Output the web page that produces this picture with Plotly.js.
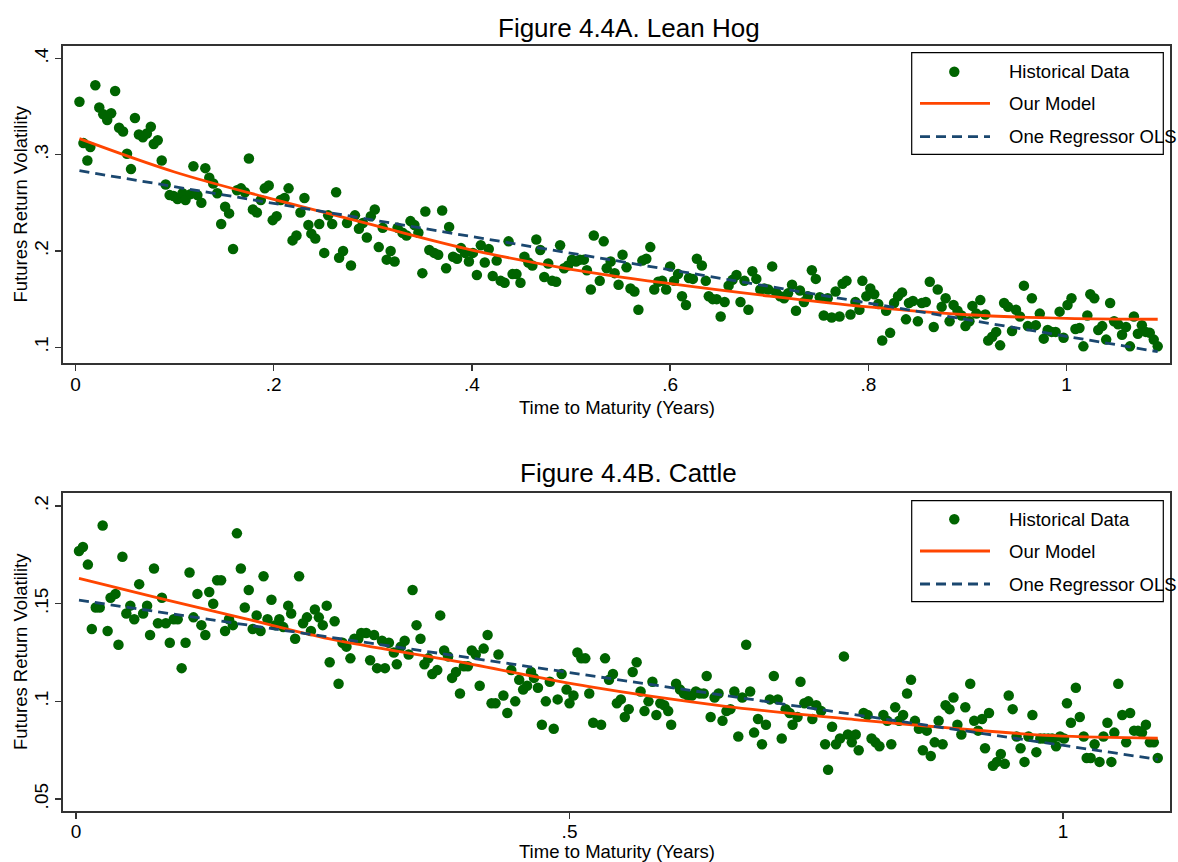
<!DOCTYPE html>
<html>
<head>
<meta charset="utf-8">
<script src="https://cdn.plot.ly/plotly-3.0.1.min.js"></script>
<style>
  html, body { margin: 0; padding: 0; background: #ffffff; }
  #chart { width: 1178px; height: 862px; }
</style>
</head>
<body>
<div id="chart"></div>
<script>
// ---------- Figure 4.4A: Lean Hog ----------
const hogMaturity = [
  0.004,0.008,0.012,0.015,0.020,0.024,0.028,0.032,0.036,0.040,0.044,0.048,0.052,0.056,0.060,0.064,0.068,0.072,0.076,0.079,
  0.083,0.087,0.091,0.095,0.099,0.103,0.108,0.111,0.116,0.119,0.123,0.127,0.131,0.135,0.139,0.143,0.147,0.151,0.155,0.159,
  0.163,0.167,0.171,0.175,0.179,0.183,0.187,0.191,0.195,0.199,0.203,0.207,0.211,0.215,0.219,0.223,0.227,0.231,0.235,0.238,
  0.242,0.246,0.251,0.255,0.259,0.263,0.266,0.270,0.274,0.278,0.282,0.286,0.290,0.294,0.298,0.302,0.306,0.310,0.314,0.318,
  0.322,0.325,0.330,0.334,0.338,0.342,0.346,0.350,0.353,0.357,0.362,0.366,0.370,0.374,0.377,0.381,0.385,0.389,0.393,0.397,
  0.401,0.405,0.409,0.413,0.417,0.421,0.425,0.429,0.433,0.437,0.441,0.445,0.449,0.453,0.457,0.461,0.465,0.469,0.473,0.477,
  0.481,0.485,0.489,0.493,0.497,0.501,0.505,0.509,0.513,0.516,0.520,0.523,0.529,0.533,0.536,0.540,0.544,0.548,0.552,0.556,
  0.560,0.564,0.568,0.572,0.576,0.580,0.584,0.588,0.592,0.596,0.600,0.604,0.608,0.612,0.616,0.619,0.623,0.627,0.632,0.636,
  0.639,0.643,0.647,0.651,0.655,0.659,0.663,0.667,0.671,0.675,0.679,0.683,0.687,0.691,0.695,0.699,0.703,0.707,0.711,0.715,
  0.719,0.723,0.727,0.731,0.735,0.739,0.743,0.747,0.751,0.755,0.759,0.763,0.767,0.771,0.774,0.778,0.782,0.787,0.791,0.794,
  0.798,0.802,0.806,0.810,0.814,0.818,0.822,0.826,0.830,0.834,0.838,0.841,0.845,0.850,0.854,0.858,0.862,0.866,0.870,0.874,
  0.878,0.882,0.886,0.890,0.894,0.898,0.902,0.905,0.909,0.913,0.918,0.921,0.925,0.929,0.933,0.937,0.941,0.945,0.949,0.953,
  0.957,0.961,0.965,0.969,0.973,0.977,0.981,0.985,0.989,0.993,0.997,1.001,1.005,1.009,1.013,1.017,1.021,1.024,1.028,1.032,
  1.036,1.040,1.044,1.048,1.052,1.056,1.060,1.064,1.068,1.072,1.076,1.080,1.084,1.088,1.092
];
const hogVolatility = [
  0.355,0.312,0.294,0.308,0.372,0.349,0.342,0.336,0.343,0.366,0.328,0.324,0.301,0.285,0.338,0.321,0.318,0.322,0.329,0.311,
  0.315,0.294,0.269,0.258,0.257,0.254,0.260,0.253,0.259,0.288,0.258,0.250,0.286,0.276,0.270,0.260,0.228,0.246,0.239,0.202,
  0.263,0.265,0.261,0.296,0.243,0.240,0.253,0.265,0.268,0.232,0.236,0.253,0.255,0.265,0.211,0.216,0.240,0.255,0.227,0.218,
  0.213,0.228,0.198,0.237,0.228,0.261,0.193,0.200,0.229,0.185,0.237,0.223,0.229,0.214,0.236,0.243,0.204,0.224,0.191,0.200,
  0.189,0.224,0.219,0.216,0.231,0.227,0.219,0.177,0.241,0.201,0.198,0.196,0.242,0.182,0.225,0.194,0.192,0.203,0.198,0.189,
  0.198,0.175,0.206,0.188,0.202,0.174,0.190,0.169,0.167,0.210,0.176,0.176,0.167,0.194,0.188,0.185,0.212,0.201,0.173,0.187,
  0.169,0.168,0.206,0.182,0.185,0.191,0.189,0.191,0.191,0.180,0.160,0.216,0.169,0.210,0.182,0.189,0.177,0.165,0.196,0.183,
  0.161,0.158,0.139,0.190,0.192,0.204,0.160,0.168,0.169,0.160,0.184,0.169,0.176,0.153,0.144,0.172,0.171,0.192,0.185,0.169,
  0.153,0.150,0.150,0.132,0.147,0.164,0.170,0.175,0.147,0.169,0.139,0.179,0.171,0.160,0.161,0.160,0.184,0.157,0.153,0.151,
  0.156,0.165,0.138,0.159,0.147,0.153,0.180,0.171,0.152,0.133,0.151,0.131,0.158,0.132,0.166,0.169,0.134,0.147,0.139,0.169,
  0.153,0.161,0.155,0.145,0.107,0.138,0.115,0.146,0.153,0.157,0.129,0.146,0.148,0.127,0.146,0.147,0.168,0.121,0.160,0.142,
  0.151,0.127,0.144,0.138,0.133,0.122,0.127,0.143,0.135,0.149,0.134,0.107,0.111,0.116,0.102,0.146,0.142,0.117,0.139,0.132,
  0.164,0.122,0.151,0.123,0.135,0.109,0.118,0.116,0.116,0.137,0.110,0.144,0.151,0.119,0.120,0.101,0.133,0.155,0.151,0.118,
  0.122,0.108,0.146,0.127,0.124,0.113,0.121,0.101,0.132,0.114,0.123,0.116,0.115,0.108,0.101
];
// fitted curve of the model and the single-regressor OLS line
const hogModelX = [0.004,0.1,0.2,0.3,0.4,0.5,0.6,0.7,0.8,0.9,1.0,1.092];
const hogModelY = [0.3166,0.2820,0.2536,0.2270,0.2010,0.1810,0.1660,0.1532,0.1420,0.1338,0.1300,0.1291];
const hogOlsX = [0.004,1.092];
const hogOlsY = [0.2833,0.0955];

// ---------- Figure 4.4B: Cattle ----------
const cattleMaturity = [
  0.003,0.007,0.012,0.016,0.020,0.024,0.027,0.032,0.035,0.040,0.043,0.047,0.051,0.055,0.059,0.064,0.068,0.072,0.075,0.079,
  0.083,0.087,0.091,0.095,0.099,0.103,0.107,0.111,0.115,0.119,0.123,0.127,0.131,0.135,0.139,0.143,0.147,0.151,0.155,0.159,
  0.163,0.167,0.171,0.175,0.179,0.183,0.187,0.190,0.194,0.198,0.202,0.206,0.210,0.215,0.218,0.222,0.226,0.230,0.234,0.238,
  0.242,0.246,0.250,0.254,0.257,0.262,0.266,0.270,0.274,0.278,0.282,0.286,0.289,0.294,0.298,0.302,0.305,0.310,0.313,0.317,
  0.322,0.325,0.329,0.333,0.337,0.341,0.345,0.349,0.353,0.357,0.361,0.366,0.369,0.373,0.377,0.381,0.385,0.389,0.393,0.397,
  0.401,0.405,0.409,0.413,0.417,0.421,0.425,0.428,0.433,0.437,0.441,0.445,0.449,0.453,0.457,0.461,0.464,0.468,0.472,0.476,
  0.480,0.484,0.488,0.492,0.497,0.500,0.504,0.508,0.512,0.516,0.520,0.524,0.532,0.536,0.540,0.544,0.548,0.552,0.556,0.560,
  0.564,0.568,0.572,0.576,0.580,0.584,0.588,0.592,0.596,0.600,0.603,0.608,0.612,0.616,0.620,0.624,0.628,0.632,0.636,0.639,
  0.643,0.647,0.651,0.655,0.659,0.663,0.667,0.671,0.675,0.679,0.683,0.687,0.691,0.695,0.699,0.703,0.707,0.711,0.715,0.719,
  0.723,0.726,0.731,0.734,0.738,0.742,0.746,0.750,0.755,0.759,0.762,0.766,0.770,0.774,0.778,0.782,0.786,0.790,0.793,0.798,
  0.802,0.806,0.810,0.814,0.818,0.822,0.826,0.830,0.834,0.838,0.842,0.846,0.850,0.854,0.858,0.862,0.866,0.870,0.874,0.878,
  0.881,0.885,0.889,0.893,0.897,0.901,0.906,0.910,0.914,0.918,0.921,0.925,0.929,0.933,0.937,0.941,0.945,0.949,0.953,0.957,
  0.961,0.965,0.969,0.973,0.977,0.981,0.985,0.989,0.993,0.997,1.001,1.004,1.008,1.013,1.017,1.021,1.024,1.028,1.032,1.037,
  1.041,1.045,1.049,1.052,1.056,1.060,1.064,1.068,1.072,1.076,1.080,1.084,1.088,1.092,1.096
];
const cattleVolatility = [
  0.177,0.179,0.170,0.137,0.148,0.148,0.190,0.136,0.153,0.155,0.129,0.174,0.145,0.149,0.142,0.160,0.145,0.149,0.134,0.168,
  0.140,0.153,0.140,0.130,0.142,0.142,0.117,0.130,0.166,0.143,0.155,0.139,0.134,0.156,0.150,0.162,0.162,0.136,0.142,0.139,
  0.186,0.168,0.148,0.157,0.137,0.144,0.136,0.164,0.142,0.152,0.139,0.142,0.138,0.149,0.145,0.132,0.164,0.140,0.143,0.136,
  0.147,0.143,0.139,0.149,0.120,0.141,0.109,0.130,0.128,0.122,0.132,0.132,0.135,0.135,0.121,0.134,0.117,0.131,0.117,0.130,
  0.125,0.119,0.128,0.131,0.124,0.157,0.139,0.132,0.119,0.122,0.114,0.116,0.144,0.126,0.123,0.112,0.115,0.104,0.118,0.118,
  0.126,0.124,0.108,0.127,0.134,0.099,0.099,0.124,0.103,0.094,0.116,0.100,0.111,0.106,0.108,0.115,0.112,0.107,0.088,0.100,
  0.110,0.086,0.101,0.114,0.106,0.099,0.103,0.125,0.122,0.122,0.104,0.089,0.088,0.122,0.111,0.114,0.099,0.101,0.092,0.096,
  0.115,0.120,0.105,0.095,0.100,0.110,0.093,0.099,0.098,0.095,0.088,0.109,0.106,0.104,0.103,0.103,0.105,0.104,0.104,0.113,
  0.092,0.102,0.104,0.090,0.095,0.096,0.105,0.082,0.102,0.129,0.105,0.084,0.091,0.078,0.088,0.101,0.113,0.101,0.081,0.096,
  0.094,0.088,0.092,0.110,0.099,0.100,0.091,0.098,0.095,0.078,0.065,0.087,0.078,0.081,0.123,0.083,0.079,0.083,0.075,0.094,
  0.093,0.081,0.079,0.077,0.093,0.090,0.078,0.097,0.090,0.093,0.104,0.111,0.090,0.086,0.075,0.085,0.072,0.079,0.090,0.078,
  0.098,0.096,0.102,0.088,0.083,0.097,0.109,0.090,0.085,0.091,0.076,0.094,0.067,0.069,0.073,0.068,0.103,0.096,0.082,0.076,
  0.069,0.082,0.093,0.074,0.081,0.081,0.081,0.081,0.077,0.082,0.081,0.099,0.089,0.107,0.092,0.082,0.071,0.071,0.078,0.069,
  0.082,0.089,0.069,0.084,0.109,0.093,0.079,0.094,0.085,0.085,0.084,0.088,0.079,0.079,0.071
];
const cattleModelX = [0.003,0.085,0.17,0.257,0.387,0.52,0.656,0.794,0.89,0.99,1.096];
const cattleModelY = [0.1629,0.1527,0.1425,0.1320,0.1203,0.1075,0.0976,0.0904,0.0862,0.0824,0.0811];
const cattleOlsX = [0.003,1.096];
const cattleOlsY = [0.1518,0.0703];

// ---------- tick labels and text ----------
const hogXTicks = [0, 0.2, 0.4, 0.6, 0.8, 1];
const hogXTickText = ['0', '.2', '.4', '.6', '.8', '1'];
const hogYTicks = [0.1, 0.2, 0.3, 0.4];
const hogYTickText = ['.1', '.2', '.3', '.4'];
const cattleXTicks = [0, 0.5, 1];
const cattleXTickText = ['0', '.5', '1'];
const cattleYTicks = [0.05, 0.1, 0.15, 0.2];
const cattleYTickText = ['.05', '.1', '.15', '.2'];

const panelTitles = ['Figure 4.4A. Lean Hog', 'Figure 4.4B. Cattle'];
const xTitle = 'Time to Maturity (Years)';
const yTitle = 'Futures Return Volatility';
const legendLabels = ['Historical Data', 'Our Model', 'One Regressor OLS'];

// ---------- styling ----------
const W = 1178, H = 862;
const FONT = 'Liberation Sans, Arial, Helvetica, sans-serif';
const DOT = '#006400';
const MODEL = '#ff4500';
const OLS = '#1a476f';
const FRAME = '#333333';
const fx = p => p / W;          // pixel column -> paper x
const fy = p => 1 - p / H;      // pixel row -> paper y

function scatterTrace(x, y, xa, ya) {
  return { x, y, xaxis: xa, yaxis: ya, type: 'scatter', mode: 'markers',
           marker: { color: DOT, size: 10.5, line: { width: 0 } },
           showlegend: false, hoverinfo: 'skip' };
}
function modelTrace(x, y, xa, ya) {
  return { x, y, xaxis: xa, yaxis: ya, type: 'scatter', mode: 'lines',
           line: { color: MODEL, width: 2.8, shape: 'spline', smoothing: 1 },
           showlegend: false, hoverinfo: 'skip' };
}
function olsTrace(x, y, xa, ya) {
  return { x, y, xaxis: xa, yaxis: ya, type: 'scatter', mode: 'lines',
           line: { color: OLS, width: 2.8, dash: '10px,6px' },
           showlegend: false, hoverinfo: 'skip' };
}

const data = [
  scatterTrace(hogMaturity, hogVolatility, 'x', 'y'),
  modelTrace(hogModelX, hogModelY, 'x', 'y'),
  olsTrace(hogOlsX, hogOlsY, 'x', 'y'),
  scatterTrace(cattleMaturity, cattleVolatility, 'x2', 'y2'),
  modelTrace(cattleModelX, cattleModelY, 'x2', 'y2'),
  olsTrace(cattleOlsX, cattleOlsY, 'x2', 'y2')
];

function axisBase() {
  return {
    showline: true, mirror: true, linecolor: FRAME, linewidth: 1.6,
    ticks: 'outside', ticklen: 6, tickwidth: 1.3, tickcolor: FRAME,
    showgrid: false, zeroline: false, fixedrange: true,
    tickfont: { family: FONT, size: 19, color: '#000000' }
  };
}

const xDomain = [fx(63), fx(1170)];
const layout = {
  width: W, height: H,
  margin: { l: 0, r: 0, t: 0, b: 0 },
  paper_bgcolor: '#ffffff', plot_bgcolor: '#ffffff',
  font: { family: FONT, size: 19, color: '#000000' },
  showlegend: false,
  xaxis: Object.assign(axisBase(), { domain: xDomain, anchor: 'y', range: [-0.0126, 1.1044],
    tickmode: 'array', tickvals: hogXTicks, ticktext: hogXTickText, ticklabelstandoff: -2 }),
  yaxis: Object.assign(axisBase(), { domain: [fy(363), fy(46)], anchor: 'x', range: [0.0837, 0.4128],
    tickmode: 'array', tickvals: hogYTicks, ticktext: hogYTickText, tickangle: -90 }),
  xaxis2: Object.assign(axisBase(), { domain: xDomain, anchor: 'y2', range: [-0.0132, 1.1084],
    tickmode: 'array', tickvals: cattleXTicks, ticktext: cattleXTickText, ticklabelstandoff: -3 }),
  yaxis2: Object.assign(axisBase(), { domain: [fy(811), fy(493)], anchor: 'x2', range: [0.04386, 0.20666],
    tickmode: 'array', tickvals: cattleYTicks, ticktext: cattleYTickText, tickangle: -90 }),
  shapes: [],
  annotations: []
};

// panel titles and axis titles
const panels = [
  { titleY: 28, xTitleY: 407, yTitleY: 204.5, legendTop: 52.7, legendBottom: 154.3, rows: [71.7, 103.3, 136.7] },
  { titleY: 473, xTitleY: 851, yTitleY: 652, legendTop: 500.7, legendBottom: 601.7, rows: [519.3, 551, 584] }
];
panels.forEach((p, i) => {
  layout.annotations.push({ xref: 'paper', yref: 'paper', x: fx(628.5), y: fy(p.titleY),
    text: panelTitles[i], showarrow: false, xanchor: 'center', yanchor: 'middle',
    font: { family: FONT, size: 26, color: '#000000' } });
  layout.annotations.push({ xref: 'paper', yref: 'paper', x: fx(616.5), y: fy(p.xTitleY),
    text: xTitle, showarrow: false, xanchor: 'center', yanchor: 'middle',
    font: { family: FONT, size: 18.5, color: '#000000' } });
  layout.annotations.push({ xref: 'paper', yref: 'paper', x: fx(20), y: fy(p.yTitleY),
    text: yTitle, showarrow: false, xanchor: 'center', yanchor: 'middle', textangle: -90,
    font: { family: FONT, size: 18.5, color: '#000000' } });

  // legend box with its keys
  layout.shapes.push({ type: 'rect', xref: 'paper', yref: 'paper',
    x0: fx(911.7), x1: fx(1163.3), y0: fy(p.legendBottom), y1: fy(p.legendTop),
    line: { color: '#000000', width: 1.2 }, fillcolor: '#ffffff', layer: 'above' });
  layout.shapes.push({ type: 'circle', xref: 'paper', yref: 'paper',
    x0: fx(954.3 - 5.2), x1: fx(954.3 + 5.2), y0: fy(p.rows[0] + 5.2), y1: fy(p.rows[0] - 5.2),
    line: { width: 0 }, fillcolor: DOT, layer: 'above' });
  layout.shapes.push({ type: 'line', xref: 'paper', yref: 'paper',
    x0: fx(920), x1: fx(990), y0: fy(p.rows[1]), y1: fy(p.rows[1]),
    line: { color: MODEL, width: 2.8 }, layer: 'above' });
  layout.shapes.push({ type: 'line', xref: 'paper', yref: 'paper',
    x0: fx(920), x1: fx(990), y0: fy(p.rows[2]), y1: fy(p.rows[2]),
    line: { color: OLS, width: 2.8, dash: '10px,6px' }, layer: 'above' });
  legendLabels.forEach((lab, k) => {
    layout.annotations.push({ xref: 'paper', yref: 'paper', x: fx(1007), y: fy(p.rows[k]),
      text: lab, showarrow: false, xanchor: 'left', yanchor: 'middle',
      font: { family: FONT, size: 18.5, color: '#000000' } });
  });
});

Plotly.newPlot('chart', data, layout, { staticPlot: true, displayModeBar: false });
</script>
</body>
</html>
